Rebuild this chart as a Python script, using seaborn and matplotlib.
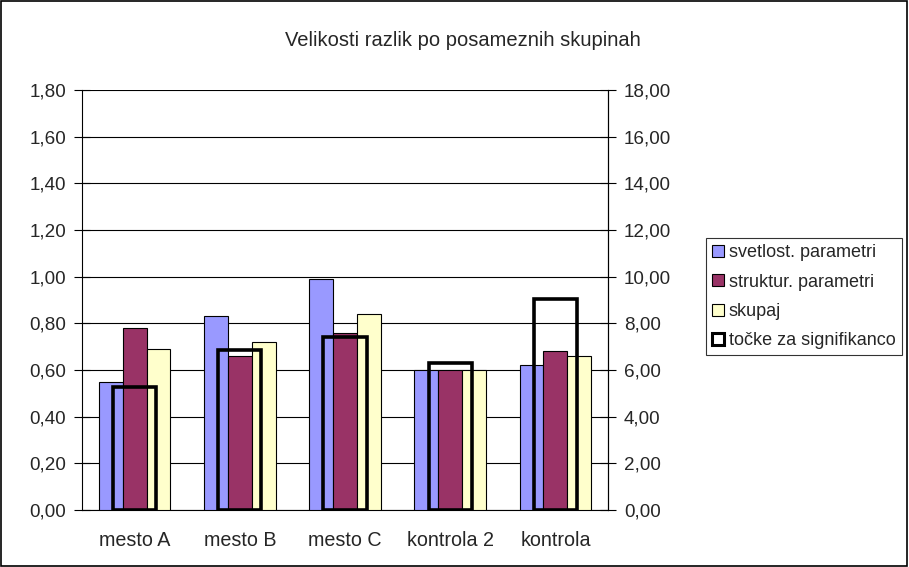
import matplotlib
matplotlib.use("Agg")
import matplotlib.pyplot as plt
from matplotlib.patches import Patch, Rectangle
import seaborn as sns
import pandas as pd
import numpy as np

categories = ["mesto A", "mesto B", "mesto C", "kontrola 2", "kontrola"]
svetlost = [0.55, 0.83, 0.99, 0.60, 0.62]
struktur = [0.78, 0.66, 0.76, 0.60, 0.68]
skupaj = [0.69, 0.72, 0.84, 0.60, 0.66]
tocke = [5.26, 6.85, 7.41, 6.29, 9.05]
series_names = ["svetlost. parametri", "struktur. parametri", "skupaj"]
sig_name = "točke za signifikanco"
colors = ["#9999FF", "#993366", "#FFFFCC"]
title = "Velikosti razlik po posameznih skupinah"
left_ticks = [0, 0.2, 0.4, 0.6, 0.8, 1.0, 1.2, 1.4, 1.6, 1.8]
right_ticks = [0, 2, 4, 6, 8, 10, 12, 14, 16, 18]

sns.set_theme(style="white")
plt.rcParams["font.family"] = ["Liberation Sans", "DejaVu Sans"]
FS_NUM = 13.6
FS_TXT = 14.2
FS_LEG = 13.0

rows = []
for name, vals in zip(series_names, [svetlost, struktur, skupaj]):
    for c, v in zip(categories, vals):
        rows.append({"cat": c, "serie": name, "val": v})
df = pd.DataFrame(rows)
df2 = pd.DataFrame({"cat": categories, "val": tocke})

fig = plt.figure(figsize=(9.09, 5.67), dpi=100)
ax = fig.add_axes([82/909, 1-510/567, (608-82)/909, (510-90)/567])

sns.barplot(data=df, x="cat", y="val", hue="serie", order=categories,
            hue_order=series_names, palette=colors, saturation=1, width=0.68, gap=0,
            edgecolor="black", linewidth=0.8, ax=ax, legend=False, errorbar=None,
            zorder=3)
ax.set_ylim(0, 1.8)
ax.set_xlim(-0.5, len(categories)-0.5)
ax.set_yticks(left_ticks)
ax.set_yticklabels([f"{t:.2f}".replace(".", ",") for t in left_ticks], fontsize=FS_NUM)
ax.yaxis.grid(True, color="black", linewidth=0.8, zorder=0)
ax.set_axisbelow(True)
ax.set_xlabel("")
ax.set_ylabel("")
ax.tick_params(axis="x", which="major", length=0, labelsize=FS_TXT, pad=15)
ax.set_xticks(np.arange(len(categories)+1) - 0.5, minor=True)
ax.tick_params(axis="x", which="minor", length=5, direction="out", width=0.8, color="black")
ax.tick_params(axis="y", length=11, direction="inout", width=0.8, color="black", left=True, pad=6)
for s in ["left", "right", "bottom"]:
    ax.spines[s].set_color("black")
    ax.spines[s].set_linewidth(0.8)
ax.spines["top"].set_visible(False)

ax2 = ax.twinx()
sns.barplot(data=df2, x="cat", y="val", order=categories, width=0.41, fill=False,
            color="black", linewidth=2.6, ax=ax2, errorbar=None, zorder=4)
ax2.set_ylim(0, 18)
ax2.set_xlim(-0.5, len(categories)-0.5)
ax2.set_yticks(right_ticks)
ax2.set_yticklabels([f"{t:.2f}".replace(".", ",") for t in right_ticks], fontsize=FS_NUM)
ax2.set_ylabel("")
ax2.set_xlabel("")
ax2.tick_params(axis="y", length=11, direction="inout", width=0.8, color="black", right=True, pad=6)
for s in ["top", "left", "bottom"]:
    ax2.spines[s].set_visible(False)
ax2.spines["right"].set_color("black")
ax2.spines["right"].set_linewidth(0.8)
for p in ax2.patches:
    p.set_edgecolor("black")
    p.set_facecolor("none")

fig.text(463/909, 1-40/567, title, ha="center", va="center", fontsize=14.5)

handles = [Patch(facecolor=c, edgecolor="black", linewidth=0.8) for c in colors]
handles.append(Patch(facecolor="white", edgecolor="black", linewidth=2.2))
leg = fig.legend(handles, series_names + [sig_name], loc="upper left",
                 bbox_to_anchor=(706/909, 1-238/567), fontsize=FS_LEG, frameon=True,
                 fancybox=False, edgecolor="black", handlelength=0.65, handleheight=0.65,
                 handletextpad=0.25, borderpad=0.35, labelspacing=0.68, borderaxespad=0)
leg.get_frame().set_linewidth(0.8)

fig.patches.append(Rectangle((0.001, 0.001), 0.997, 0.997, transform=fig.transFigure,
                             fill=False, edgecolor="black", linewidth=1.2))

fig.savefig("out.png", dpi=100)
